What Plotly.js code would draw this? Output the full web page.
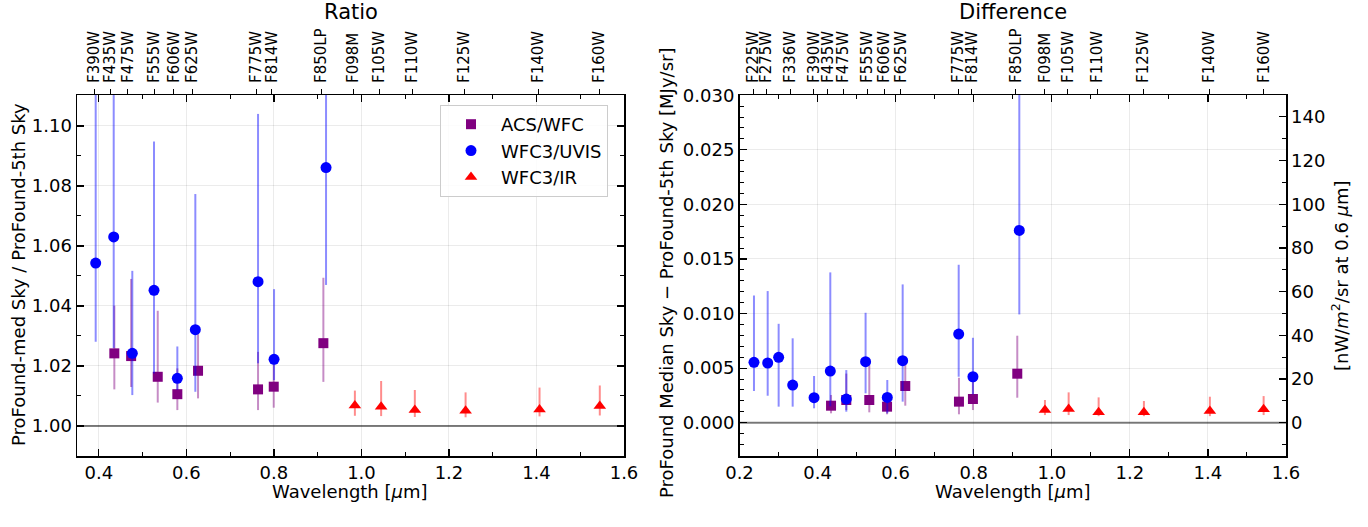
<!DOCTYPE html>
<html>
<head>
<meta charset="utf-8">
<script src="https://cdn.plot.ly/plotly-3.0.1.min.js"></script>
<style>html,body{margin:0;padding:0;background:#fff;}#chart{width:1368px;height:527px;}</style>
</head>
<body>
<div id="chart"></div>
<script>
// ---------- data ----------
const filterNames = ["F225W","F275W","F336W","F390W","F435W","F475W","F555W","F606W","F625W","F775W","F814W","F850LP","F098M","F105W","F110W","F125W","F140W","F160W"];
const filterWave  = [0.236,0.268,0.330,0.390,0.426,0.466,0.527,0.571,0.613,0.760,0.795,0.908,0.982,1.041,1.116,1.235,1.404,1.543];

// Ratio panel
const ratioAcsX  = [0.4353,0.4737,0.5345,0.5793,0.6266,0.7637,0.7996,0.9130];
const ratioAcsY  = [1.0242,1.0233,1.0164,1.0106,1.0184,1.0122,1.0131,1.0276];
const ratioAcsHi = [1.0401,1.0490,1.0384,1.0192,1.0309,1.0247,1.0208,1.0494];
const ratioAcsLo = [1.0122,1.0130,1.0078,1.0053,1.0092,1.0053,1.0061,1.0147];

const ratioUvisX  = [0.3927,0.4339,0.4764,0.5260,0.5793,0.6204,0.7637,0.8003,0.9191];
const ratioUvisY  = [1.0543,1.0630,1.0242,1.0452,1.0159,1.0321,1.0481,1.0222,1.0861];
const ratioUvisHi = [1.1250,1.1300,1.0517,1.0948,1.0265,1.0773,1.1040,1.0456,1.1250];
const ratioUvisLo = [1.0281,1.0260,1.0103,1.0175,1.0120,1.0114,1.0209,1.0153,1.0470];

const ratioIrX  = [0.9850,1.0450,1.1220,1.2380,1.4070,1.5447];
const ratioIrY  = [1.0068,1.0064,1.0053,1.0051,1.0055,1.0067];
const ratioIrHi = [1.0118,1.0150,1.0120,1.0112,1.0128,1.0135];
const ratioIrLo = [1.0034,1.0033,1.0030,1.0029,1.0032,1.0035];

// Difference panel [MJy/sr]
const diffAcsX  = [0.4345,0.4736,0.5325,0.5780,0.6247,0.7622,0.7980,0.9116];
const diffAcsY  = [0.00156,0.00208,0.00208,0.00147,0.00336,0.00193,0.00217,0.00449];
const diffAcsHi = [0.00254,0.00450,0.00528,0.00223,0.00544,0.00412,0.00391,0.00797];
const diffAcsLo = [0.00086,0.00116,0.00095,0.00077,0.00156,0.00077,0.00116,0.00229];

const diffUvisX  = [0.2371,0.2722,0.3003,0.3362,0.3910,0.4326,0.4736,0.5230,0.5786,0.6180,0.7615,0.7980,0.9168];
const diffUvisY  = [0.00553,0.00547,0.00599,0.00345,0.00229,0.00473,0.00217,0.00559,0.00232,0.00568,0.00812,0.00421,0.01761];
const diffUvisHi = [0.01166,0.01206,0.00906,0.00773,0.00428,0.01377,0.00482,0.01007,0.00391,0.01267,0.01447,0.00778,0.03200];
const diffUvisLo = [0.00290,0.00247,0.00147,0.00147,0.00132,0.00150,0.00101,0.00269,0.00086,0.00193,0.00421,0.00260,0.00992];

const diffIrX  = [0.9825,1.0432,1.1200,1.2360,1.4050,1.5427];
const diffIrY  = [0.00116,0.00125,0.00095,0.00095,0.00107,0.00123];
const diffIrHi = [0.00208,0.00278,0.00232,0.00199,0.00238,0.00244];
const diffIrLo = [0.00070,0.00070,0.00060,0.00060,0.00060,0.00070];

const seriesNames = ["ACS/WFC","WFC3/UVIS","WFC3/IR"];
const refLevels = [1.0, 0.0];
// MJy/sr -> nW/m^2/sr at 0.6 micron
const nuFactor = 2.998e8 / 0.6e-6 * 1e-20 * 1e9;

// ---------- styling ----------
const FONT = "DejaVu Sans";
const colors = {acs:"#800080", uvis:"#0000ff", ir:"#ff0000"};
const errCol = {acs:"rgba(128,0,128,0.45)", uvis:"rgba(0,0,255,0.45)", ir:"rgba(255,0,0,0.45)"};

function sub(a,b){return a.map((v,i)=>v-b[i]);}
function mk(x,y,hi,lo,key,sym,size,xa,ya,name,show){
  return {type:"scatter",mode:"markers",x:x,y:y,xaxis:xa,yaxis:ya,name:name,showlegend:show,
    marker:{color:colors[key],symbol:sym,size:size},
    error_y:{type:"data",symmetric:false,array:sub(hi,y),arrayminus:sub(y,lo),color:errCol[key],thickness:2,width:0},
    cliponaxis:true};
}
// invisible helper trace so that an overlaid axis gets drawn
function ghost(xa,ya){
  return {type:"scatter",mode:"markers",x:[filterWave[5]],y:[null],xaxis:xa,yaxis:ya,showlegend:false,hoverinfo:"skip",marker:{opacity:0}};
}

const traces = [
  mk(ratioAcsX,ratioAcsY,ratioAcsHi,ratioAcsLo,"acs","square",10,"x","y",seriesNames[0],true),
  mk(ratioUvisX,ratioUvisY,ratioUvisHi,ratioUvisLo,"uvis","circle",11,"x","y",seriesNames[1],true),
  mk(ratioIrX,ratioIrY,ratioIrHi,ratioIrLo,"ir","triangle-up",11,"x","y",seriesNames[2],true),
  mk(diffAcsX,diffAcsY,diffAcsHi,diffAcsLo,"acs","square",10,"x2","y2",seriesNames[0],false),
  mk(diffUvisX,diffUvisY,diffUvisHi,diffUvisLo,"uvis","circle",11,"x2","y2",seriesNames[1],false),
  mk(diffIrX,diffIrY,diffIrHi,diffIrLo,"ir","triangle-up",11,"x2","y2",seriesNames[2],false),
  ghost("x3","y"), ghost("x4","y2"), ghost("x2","y3")
];

const W=1368,H=527;
const px = v=>v/W, py = v=>1-v/H;
const dL=[px(77),px(624)], dR=[px(739.5),px(1286)], dY=[py(456),py(95)];
const gridC="rgba(0,0,0,0.08)";

function bottomX(domain,range,anchor){
  return {domain:domain,range:range,anchor:anchor,dtick:0.2,tick0:0,tickformat:".1f",
    ticks:"inside",ticklen:7,tickwidth:1.2,tickcolor:"#000",showline:true,linecolor:"#000",linewidth:1.5,mirror:"ticks",
    showgrid:true,gridcolor:gridC,gridwidth:1,zeroline:false,
    minor:{dtick:0.1,tick0:0,ticks:"inside",ticklen:4,tickwidth:1,tickcolor:"#000",showgrid:false},
    tickfont:{family:FONT,size:18,color:"#000"}};
}
function topX(over,range,anchor){
  return {overlaying:over,side:"top",anchor:anchor,range:range,tickmode:"array",tickvals:filterWave,ticktext:filterNames,
    tickangle:-90,ticks:"outside",ticklen:5,tickwidth:1,tickcolor:"#000",ticklabelstandoff:3,showline:false,showgrid:false,zeroline:false,
    tickfont:{family:FONT,size:15,color:"#000"}};
}

const layout = {
  width:W,height:H,margin:{l:0,r:0,t:0,b:0},paper_bgcolor:"#fff",plot_bgcolor:"#fff",
  font:{family:FONT,size:18,color:"#000"},
  showlegend:true,
  legend:{x:px(440),y:py(105),xanchor:"left",yanchor:"top",bgcolor:"rgba(255,255,255,0.85)",bordercolor:"#cccccc",borderwidth:1,
    font:{family:FONT,size:18,color:"#000"},itemwidth:50,tracegroupgap:0},
  xaxis:bottomX(dL,[0.35,1.6],"y"),
  xaxis2:bottomX(dR,[0.2,1.6],"y2"),
  xaxis3:topX("x",[0.35,1.6],"y"),
  xaxis4:topX("x2",[0.2,1.6],"y2"),
  yaxis:{domain:dY,range:[0.99,1.1103],anchor:"x",dtick:0.02,tick0:1.0,tickformat:".2f",
    ticks:"inside",ticklen:7,tickwidth:1.2,tickcolor:"#000",showline:true,linecolor:"#000",linewidth:1.5,mirror:"ticks",
    showgrid:true,gridcolor:gridC,zeroline:false,
    minor:{dtick:0.01,tick0:1.0,ticks:"inside",ticklen:4,tickwidth:1,tickcolor:"#000",showgrid:false},
    tickfont:{family:FONT,size:18,color:"#000"}},
  yaxis2:{domain:dY,range:[-0.00305,0.03002],anchor:"x2",dtick:0.005,tick0:0,tickformat:".3f",
    ticks:"inside",ticklen:7,tickwidth:1.2,tickcolor:"#000",showline:true,linecolor:"#000",linewidth:1.5,mirror:false,
    showgrid:true,gridcolor:gridC,zeroline:false,
    minor:{dtick:0.001,tick0:0,ticks:"inside",ticklen:4,tickwidth:1,tickcolor:"#000",showgrid:false},
    tickfont:{family:FONT,size:18,color:"#000"}},
  yaxis3:{overlaying:"y2",side:"right",anchor:"x2",range:[-0.00305*nuFactor,0.03002*nuFactor],dtick:20,tick0:0,
    ticks:"inside",ticklen:7,tickwidth:1.2,tickcolor:"#000",showline:true,linecolor:"#000",linewidth:1.5,
    showgrid:false,zeroline:false,
    minor:{dtick:10,tick0:0,ticks:"inside",ticklen:4,tickwidth:1,tickcolor:"#000",showgrid:false},
    tickfont:{family:FONT,size:18,color:"#000"}},
  shapes:[
    {type:"line",xref:"x domain",yref:"y",x0:0,x1:1,y0:refLevels[0],y1:refLevels[0],line:{color:"#808080",width:2},layer:"below"},
    {type:"line",xref:"x2 domain",yref:"y2",x0:0,x1:1,y0:refLevels[1],y1:refLevels[1],line:{color:"#808080",width:2},layer:"below"}
  ],
  annotations:[
    {text:"Ratio",xref:"paper",yref:"paper",x:px(351),y:py(12),xanchor:"center",yanchor:"middle",showarrow:false,font:{family:FONT,size:21}},
    {text:"Difference",xref:"paper",yref:"paper",x:px(1013),y:py(12),xanchor:"center",yanchor:"middle",showarrow:false,font:{family:FONT,size:21}},
    {text:"Wavelength [<i>μ</i>m]",xref:"paper",yref:"paper",x:px(350),y:py(491),xanchor:"center",yanchor:"middle",showarrow:false,font:{family:FONT,size:18}},
    {text:"Wavelength [<i>μ</i>m]",xref:"paper",yref:"paper",x:px(1013),y:py(491),xanchor:"center",yanchor:"middle",showarrow:false,font:{family:FONT,size:18}},
    {text:"ProFound-med Sky / ProFound-5th Sky",xref:"paper",yref:"paper",x:px(18),y:py(275),textangle:-90,xanchor:"center",yanchor:"middle",showarrow:false,font:{family:FONT,size:18}},
    {text:"ProFound Median Sky − ProFound-5th Sky [MJy/sr]",xref:"paper",yref:"paper",x:px(666),y:py(273),textangle:-90,xanchor:"center",yanchor:"middle",showarrow:false,font:{family:FONT,size:18}},
    {text:"[nW/<i>m</i><sup>2</sup>/sr at 0.6 <i>μ</i>m]",xref:"paper",yref:"paper",x:px(1340),y:py(276),textangle:-90,xanchor:"center",yanchor:"middle",showarrow:false,font:{family:FONT,size:18}}
  ]
};

Plotly.newPlot("chart",traces,layout,{displayModeBar:false,staticPlot:true});
</script>
</body>
</html>
